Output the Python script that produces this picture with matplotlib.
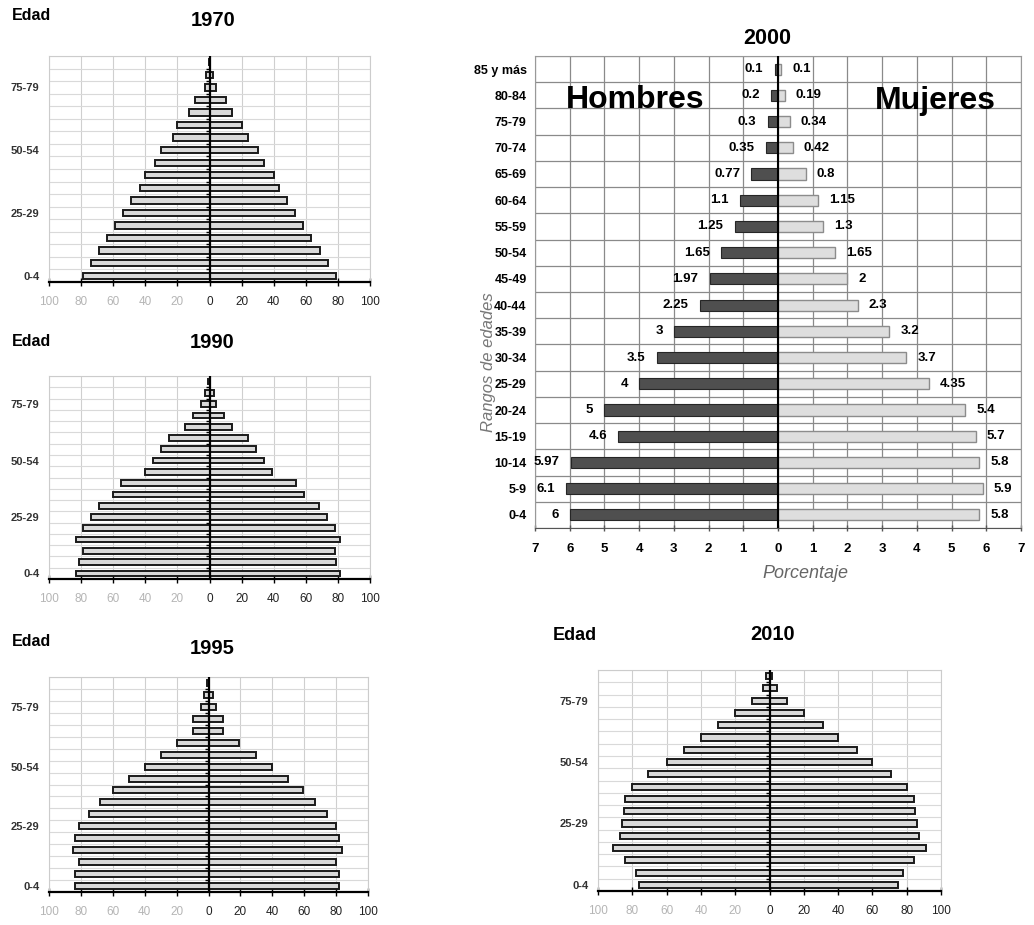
import matplotlib.pyplot as plt
import numpy as np

plt.rcParams['font.family'] = ['Liberation Sans', 'DejaVu Sans']

W, H = 1034, 925

edades = ["0-4", "5-9", "10-14", "15-19", "20-24", "25-29", "30-34", "35-39",
          "40-44", "45-49", "50-54", "55-59", "60-64", "65-69", "70-74",
          "75-79", "80-84", "85 y más"]

# miles de personas por grupo, de 0-4 hacia arriba
h1970 = [79, 74, 69, 64, 59, 54, 49, 43, 40, 34, 30, 23, 20, 13, 9, 3, 2, 0.5]
m1970 = [79, 74, 69, 63, 58, 53, 48, 43, 40, 34, 30, 24, 20, 14, 10, 4, 2, 0.5]

h1990 = [83, 81, 79, 83, 79, 74, 69, 60, 55, 40, 35, 30, 25, 15, 10, 5, 3, 1]
m1990 = [81, 79, 78, 81, 78, 73, 68, 59, 54, 39, 34, 29, 24, 14, 9, 4, 3, 0.5]

h1995 = [84, 84, 81, 85, 84, 81, 75, 68, 60, 50, 40, 30, 20, 10, 10, 5, 3, 1]
m1995 = [82, 82, 80, 84, 82, 80, 74, 67, 59, 50, 40, 30, 19, 9, 9, 5, 3, 0.5]

h2010 = [76, 78, 84, 91, 87, 86, 85, 84, 80, 71, 60, 50, 40, 30, 20, 10, 4, 2]
m2010 = [75, 78, 84, 91, 87, 86, 85, 84, 80, 71, 60, 51, 40, 31, 20, 10, 4.5, 1.5]

# porcentajes 2000
h2000 = [6, 6.1, 5.97, 4.6, 5, 4, 3.5, 3, 2.25, 1.97, 1.65, 1.25, 1.1, 0.77,
         0.35, 0.3, 0.2, 0.1]
m2000 = [5.8, 5.9, 5.8, 5.7, 5.4, 4.35, 3.7, 3.2, 2.3, 2, 1.65, 1.3, 1.15, 0.8,
         0.42, 0.34, 0.19, 0.1]


def rect(left, top, right, bottom):
    return [left / W, 1 - bottom / H, (right - left) / W, (bottom - top) / H]


def ftext(x, y, s, **kw):
    fig.text(x / W, 1 - y / H, s, **kw)


def piramide(box, hombres, mujeres):
    ax = fig.add_axes(rect(*box))
    y = np.arange(len(edades))
    ax.barh(y, -np.array(hombres), height=0.5, color='#d9d9d9',
            edgecolor='#1a1a1a', lw=1.4)
    ax.barh(y, mujeres, height=0.5, color='#d9d9d9', edgecolor='#1a1a1a', lw=1.4)
    ax.set_xlim(-100, 100)
    ax.set_ylim(-0.5, len(edades) - 0.5)
    ax.axvline(0, color='k', lw=1.6, zorder=3)
    bounds = np.arange(-0.5, len(edades), 1)
    ax.plot(np.zeros(len(bounds) - 2), bounds[1:-1], ls='none', marker=0,
            ms=3, mew=1, color='k', zorder=3)

    ticks = np.arange(-100, 101, 20)
    ax.set_xticks(ticks)
    ax.set_xticklabels([str(abs(t)) for t in ticks], fontsize=8.5)
    for t, lab in zip(ticks, ax.get_xticklabels()):
        lab.set_color('#b5b5b5' if t < 0 else '#222222')
    ax.set_yticks(y[::5])
    ax.set_yticklabels([edades[i] for i in y[::5]], fontsize=8,
                       fontweight='bold', color='#333333')
    ax.set_yticks(bounds, minor=True)
    ax.grid(axis='x', color='#cfcfcf', lw=0.8)
    ax.grid(axis='y', which='minor', color='#d9d9d9', lw=0.8)
    ax.set_axisbelow(True)
    ax.tick_params(axis='y', which='both', length=0, pad=7)
    ax.tick_params(axis='x', direction='inout', length=6, width=1, pad=7)
    for s in ['top', 'right', 'left']:
        ax.spines[s].set_color('#cccccc')
    ax.spines['bottom'].set_linewidth(1.6)
    return ax


fig = plt.figure(figsize=(W / 100, H / 100), dpi=100)

piramide((49, 56, 370, 282), h1970, m1970)
ftext(12, 15, "Edad", fontsize=11.5, fontweight='bold', va='center')
ftext(213, 20, "1970", fontsize=14.5, fontweight='bold', ha='center', va='center')

piramide((49, 376, 370, 579), h1990, m1990)
ftext(12, 342, "Edad", fontsize=11.5, fontweight='bold', va='center')
ftext(212, 342, "1990", fontsize=14.5, fontweight='bold', ha='center', va='center')

piramide((49, 677, 368, 892), h1995, m1995)
ftext(12, 642, "Edad", fontsize=11.5, fontweight='bold', va='center')
ftext(212, 648, "1995", fontsize=14.5, fontweight='bold', ha='center', va='center')

piramide((598, 670, 941, 891), h2010, m2010)
ftext(553, 635, "Edad", fontsize=13, fontweight='bold', va='center')
ftext(773, 634, "2010", fontsize=14.5, fontweight='bold', ha='center', va='center')

# 2000 en porcentajes, con valores
ax = fig.add_axes(rect(535, 56, 1021, 528))
y = np.arange(len(edades))
ax.barh(y, -np.array(h2000), height=0.42, color='#4f4f4f', edgecolor='#262626', lw=0.8)
ax.barh(y, m2000, height=0.42, color='#dedede', edgecolor='#8c8c8c', lw=1)
for yi, v in zip(y, h2000):
    ax.annotate(f"{v:g}", xy=(-v, yi), xytext=(-8, 0), textcoords='offset points',
                ha='right', va='center', fontsize=9.5, fontweight='bold')
for yi, v in zip(y, m2000):
    ax.annotate(f"{v:g}", xy=(v, yi), xytext=(8, 0), textcoords='offset points',
                ha='left', va='center', fontsize=9.5, fontweight='bold')
ax.set_xlim(-7, 7)
ax.set_ylim(-0.5, len(edades) - 0.5)
ax.axvline(0, color='k', lw=1.5, zorder=3)
ticks = np.arange(-7, 8)
ax.set_xticks(ticks)
ax.set_xticklabels([str(abs(t)) for t in ticks], fontsize=9.5, fontweight='bold')
ax.set_yticks(y)
ax.set_yticklabels(edades, fontsize=9, fontweight='bold')
ax.set_yticks(np.arange(-0.5, len(edades), 1), minor=True)
ax.grid(axis='x', color='#8a8a8a', lw=0.9)
ax.grid(axis='y', which='minor', color='#8a8a8a', lw=0.9)
ax.set_axisbelow(True)
ax.tick_params(axis='y', which='both', length=0, pad=6)
ax.tick_params(axis='x', direction='inout', length=5, width=1, pad=8, color='#555555')
for s in ax.spines.values():
    s.set_color('#999999')
ax.spines['bottom'].set_color('#555555')

ftext(767, 38, "2000", fontsize=15.5, fontweight='bold', ha='center', va='center')
ftext(635, 100, "Hombres", fontsize=23, fontweight='bold', ha='center', va='center')
ftext(935, 101, "Mujeres", fontsize=23, fontweight='bold', ha='center', va='center')
ftext(805, 573, "Porcentaje", fontsize=13, style='italic', color='#666666',
      ha='center', va='center')
ftext(488, 362, "Rangos de edades", fontsize=12, style='italic', color='#777777',
      rotation=90, ha='center', va='center')

fig.savefig("out.png", dpi=100)
